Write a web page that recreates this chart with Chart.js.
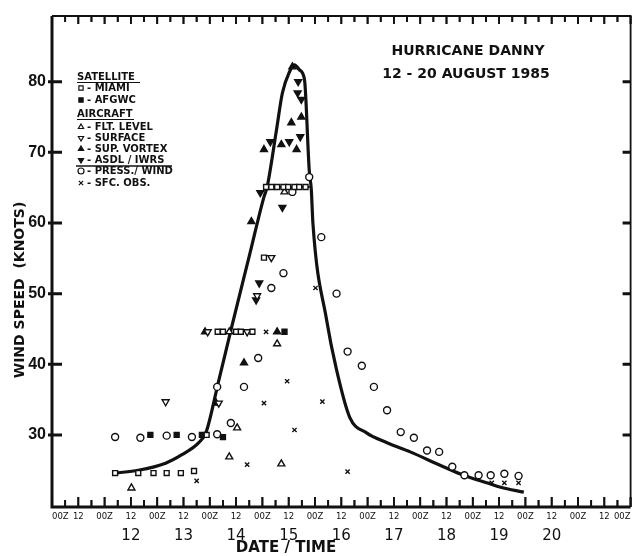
<!DOCTYPE html>
<html>
<head>
<meta charset="utf-8">
<script src="https://cdn.jsdelivr.net/npm/chart.js@4.4.0/dist/chart.umd.min.js"></script>
<style>
  html, body { margin: 0; padding: 0; background: #fff; }
  #wrap { position: relative; width: 636px; height: 556px; }
  #tickLayer { position: absolute; left: 0; top: 0; width: 636px; height: 556px; pointer-events: none; }
</style>
</head>
<body>
<div id="wrap"><canvas id="dannyChart" width="636" height="556"></canvas><canvas id="tickLayer"></canvas></div>
<script>
// values are [day of August (UTC, decimal), wind speed in knots]
const bestTrack = [[12.20,24.6],[12.64,25.0],[13.16,26.0],[13.47,27.2],[13.79,28.9],[13.93,30.4],[14.17,37.7],
  [14.42,45.4],[14.75,55.3],[15.03,63.7],[15.09,65.1],[15.26,72.8],
  [15.38,78.4],[15.51,81.3],[15.61,82.4],[15.70,81.7],[15.80,80.3],[15.82,78.4],[15.89,67.5],[15.93,64.7],
  [15.96,60.0],[16.22,46.3],[16.41,39.2],[16.66,32.5],[16.98,30.3],[17.37,28.9],[17.81,27.6],[18.44,25.5],
  [18.82,24.3],[19.28,23.2],[19.53,22.6],[19.97,21.9]];
const plateau = [[15.05,65.1],[15.90,65.1]];

const miami = [[12.20,24.6],[12.64,24.6],[12.93,24.6],[13.18,24.6],[13.45,24.6],[13.70,24.9],[13.94,30.0],
  [14.15,44.6],[14.25,44.6],[14.50,44.6],[14.59,44.6],[14.81,44.6],[15.03,55.1],
  [15.07,65.1],[15.17,65.1],[15.28,65.1],[15.40,65.1],[15.49,65.1],[15.61,65.1],[15.70,65.1],[15.82,65.1]];
const afgwc = [[12.87,30.0],[13.37,30.0],[13.85,30.0],[14.25,29.7],[15.42,44.6]];
const fltLevel = [[12.51,22.5],[14.37,26.9],[14.52,31.0],[14.37,44.6],[15.28,42.9],[15.36,25.9],[15.42,64.4]];
const surface = [[13.16,34.7],[14.17,34.5],[13.96,44.6],[14.71,44.6],[15.17,55.1],[14.90,49.7]];
const supVortex = [[13.91,44.6],[14.12,34.5],[14.65,40.2],[14.79,60.2],[15.28,44.6],[15.03,70.4],[15.36,71.1],
  [15.65,70.4],[15.55,74.2],[15.74,75.0],[15.57,82.1]];
const asdl = [[14.96,64.3],[15.38,62.2],[14.94,51.5],[14.88,49.1],[15.15,71.5],[15.51,71.5],[15.72,72.2],
  [15.68,80.0],[15.67,78.4],[15.74,77.5]];
const pressWind = [[12.20,29.7],[12.68,29.6],[13.18,29.9],[13.66,29.7],[14.14,30.1],[14.40,31.7],[14.14,36.8],
  [14.65,36.8],[14.92,40.9],[15.17,50.8],[15.40,52.9],[15.57,64.4],[15.89,66.5],[16.12,58.0],[16.41,50.0],
  [16.62,41.8],[16.89,39.8],[17.12,36.8],[17.37,33.5],[17.63,30.4],[17.88,29.6],[18.13,27.8],[18.36,27.6],
  [18.61,25.5],[18.84,24.3],[19.11,24.3],[19.34,24.3],[19.60,24.5],[19.87,24.2]];
const sfcObs = [[13.75,23.5],[14.71,25.8],[15.03,34.5],[15.47,37.6],[15.61,30.7],[15.07,44.6],[16.01,50.8],
  [16.14,34.7],[16.62,24.8],[19.36,23.2],[19.60,23.2],[19.87,23.2]];

const xMin = 11, xMax = 22, yMin = 19.8, yMax = 89.3;
const yTicks = [30, 40, 50, 60, 70, 80];
const dateTicks = [12.5, 13.5, 14.5, 15.5, 16.5, 17.5, 18.5, 19.5, 20.5];
const dateLabels = ['12', '13', '14', '15', '16', '17', '18', '19', '20'];

const ink = '#111';
const toXY = arr => arr.map(p => ({ x: p[0], y: p[1] }));

function marks(label, data, style, filled, rot, r) {
  return {
    label: label, data: toXY(data), pointStyle: style, pointRotation: rot || 0,
    pointRadius: r || 3.5, borderColor: ink, backgroundColor: filled ? ink : '#fff',
    pointBorderWidth: 1.4, showLine: false, order: 1
  };
}

const datasets = [
  marks('MIAMI', miami, 'rect', false),
  marks('AFGWC', afgwc, 'rect', true),
  marks('FLT. LEVEL', fltLevel, 'triangle', false, 0, 4),
  marks('SURFACE', surface, 'triangle', false, 180, 4),
  marks('SUP. VORTEX', supVortex, 'triangle', true, 0, 4),
  marks('ASDL / IWRS', asdl, 'triangle', true, 180, 4),
  marks('PRESS./ WIND', pressWind, 'circle', false),
  marks('SFC. OBS.', sfcObs, 'crossRot', false, 0, 3),
  { label: 'track', data: toXY(bestTrack), showLine: true, borderColor: ink, borderWidth: 3.2,
    pointRadius: 0, cubicInterpolationMode: 'monotone', order: 5 },
  { label: 'plateau', data: toXY(plateau), showLine: true, borderColor: ink, borderWidth: 2,
    pointRadius: 0, order: 5 }
];

// frame, inward ticks, legend box and lettering
const framePlugin = {
  id: 'frame',
  afterDraw(chart) {
    const ctx = chart.ctx;
    const a = chart.chartArea;
    const x = chart.scales.x, y = chart.scales.y;
    ctx.save();
    ctx.strokeStyle = ink;
    ctx.fillStyle = ink;
    ctx.lineWidth = 3;
    ctx.beginPath();
    ctx.moveTo(a.left, a.top); ctx.lineTo(a.left, a.bottom); ctx.lineTo(a.right, a.bottom);
    ctx.stroke();
    ctx.lineWidth = 1.8;
    ctx.beginPath();
    ctx.moveTo(a.left, a.top); ctx.lineTo(a.right, a.top); ctx.lineTo(a.right, a.bottom);
    ctx.stroke();

    // six-hourly ticks, top and bottom
    ctx.lineWidth = 1.8;
    x.ticks.forEach(t => {
      const px = x.getPixelForValue(t.value);
      const major = Math.abs(t.value * 2 - Math.round(t.value * 2)) < 1e-6;
      ctx.beginPath();
      ctx.moveTo(px, a.bottom); ctx.lineTo(px, a.bottom - (major ? 10 : 7));
      ctx.moveTo(px, a.top); ctx.lineTo(px, a.top + (major ? 8 : 6));
      ctx.stroke();
    });
    // knots ticks, left and right
    ctx.lineWidth = 3;
    yTicks.forEach(v => {
      const py = y.getPixelForValue(v);
      ctx.beginPath();
      ctx.moveTo(a.left - 4, py); ctx.lineTo(a.left + 10, py);
      ctx.moveTo(a.right, py); ctx.lineTo(a.right - 8, py);
      ctx.stroke();
    });

    // title
    ctx.textAlign = 'center';
    ctx.textBaseline = 'middle';
    ctx.font = 'bold 14px "DejaVu Sans"';
    ctx.fillText('HURRICANE DANNY', 468, 51);
    ctx.fillText('12 - 20 AUGUST 1985', 466, 74);

    // axis titles
    ctx.font = 'bold 15px "DejaVu Sans"';
    ctx.fillText('DATE / TIME', 286, 548);
    ctx.save();
    ctx.translate(20, 290);
    ctx.rotate(-Math.PI / 2);
    ctx.font = 'bold 14px "DejaVu Sans"';
    ctx.fillText('WIND SPEED  (KNOTS)', 0, 0);
    ctx.restore();

    // legend
    const ds = chart.data.datasets;
    const rowY = [88, 100, 127, 138, 149, 160, 171, 183];
    ctx.textAlign = 'left';
    ctx.font = 'bold 10px "DejaVu Sans"';
    ctx.fillText('SATELLITE', 77, 77);
    ctx.fillText('AIRCRAFT', 77, 114);
    ctx.lineWidth = 1;
    ctx.beginPath();
    ctx.moveTo(77, 82.5); ctx.lineTo(140, 82.5);
    ctx.moveTo(77, 119.5); ctx.lineTo(134, 119.5);
    ctx.stroke();
    ctx.lineWidth = 1.6;
    ctx.beginPath();
    ctx.moveTo(76, 166); ctx.lineTo(172, 166);
    ctx.stroke();
    for (let i = 0; i < 8; i++) {
      const d = ds[i];
      ctx.fillStyle = d.backgroundColor;
      ctx.strokeStyle = ink;
      ctx.lineWidth = 1.2;
      Chart.helpers.drawPoint(ctx, { pointStyle: d.pointStyle, rotation: d.pointRotation,
        radius: 3, borderWidth: 1.2 }, 81, rowY[i]);
      ctx.fillStyle = ink;
      ctx.fillText('- ' + d.label, 87, rowY[i]);
    }
    ctx.restore();
  }
};

const chart = new Chart(document.getElementById('dannyChart').getContext('2d'), {
  type: 'scatter',
  data: { datasets: datasets },
  options: {
    responsive: false,
    animation: false,
    layout: { padding: { top: 16, right: 4, left: 0, bottom: 0 } },
    plugins: { legend: { display: false }, tooltip: { enabled: false } },
    scales: {
      x: {
        type: 'linear', min: xMin, max: xMax, position: 'bottom',
        grid: { display: false }, border: { display: false },
        ticks: {
          stepSize: 0.25, autoSkip: false, maxRotation: 0, align: 'inner', padding: -3,
          color: ink, font: { family: 'DejaVu Sans', size: 8.5 },
          callback: v => {
            const frac = Math.round((v % 1) * 100);
            if (frac === 0) return '00Z';
            if (frac === 50) return '12';
            return '';
          }
        },
        afterFit: s => { s.height = 18; }
      },
      x2: {
        type: 'linear', min: xMin, max: xMax, position: 'bottom',
        grid: { display: false }, border: { display: false },
        afterBuildTicks: s => { s.ticks = dateTicks.map(v => ({ value: v })); },
        ticks: {
          autoSkip: false, maxRotation: 0, padding: -6, color: ink,
          font: { family: 'DejaVu Sans', size: 15 },
          callback: (v, i) => dateLabels[i]
        },
        afterFit: s => { s.height = 31; }
      },
      y: {
        type: 'linear', min: yMin, max: yMax,
        grid: { display: false }, border: { display: false },
        afterBuildTicks: s => { s.ticks = yTicks.map(v => ({ value: v })); },
        ticks: { padding: -2, color: ink, font: { family: 'Liberation Sans', size: 16, weight: 'bold' } },
        afterFit: s => { s.width = 52; }
      }
    }
  },
  plugins: [framePlugin]
});

// same six-hourly ticks again on a layer above the chart
function drawEdgeTicks() {
  const layer = document.getElementById('tickLayer');
  const dpr = window.devicePixelRatio || 1;
  layer.width = 636 * dpr;
  layer.height = 556 * dpr;
  const c = layer.getContext('2d');
  c.setTransform(dpr, 0, 0, dpr, 0, 0);
  const a = chart.chartArea;
  const xs = chart.scales.x;
  c.strokeStyle = ink;
  c.lineWidth = 1.8;
  xs.ticks.forEach(t => {
    const px = xs.getPixelForValue(t.value);
    const major = Math.abs(t.value * 2 - Math.round(t.value * 2)) < 1e-6;
    c.beginPath();
    c.moveTo(px, a.bottom); c.lineTo(px, a.bottom - (major ? 10 : 7));
    c.moveTo(px, a.top); c.lineTo(px, a.top + (major ? 8 : 6));
    c.stroke();
  });
}
drawEdgeTicks();
</script>
</body>
</html>
